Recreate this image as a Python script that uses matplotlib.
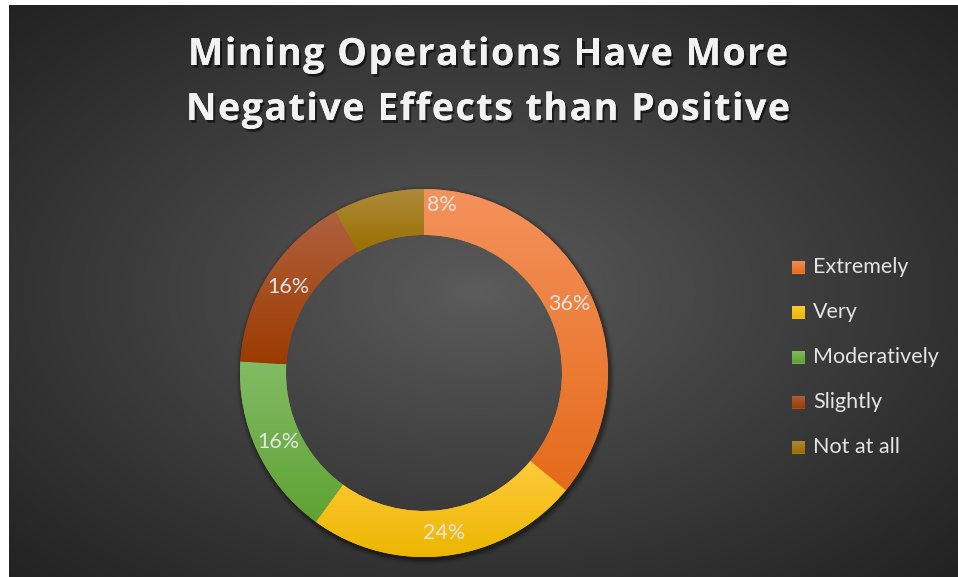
import numpy as np
import matplotlib
matplotlib.use("Agg")
import matplotlib.pyplot as plt
from matplotlib.patches import Rectangle, Wedge
from matplotlib import patheffects as pe
from matplotlib.colors import to_rgb
from matplotlib.font_manager import FontProperties
from matplotlib.textpath import TextToPath

# Survey responses
categories = ["Extremely", "Very", "Moderatively", "Slightly", "Not at all"]
shares = [36, 24, 16, 16, 8]
pct_labels = ["36%", "24%", "16%", "16%", "8%"]
title_lines = ["Mining Operations Have More", "Negative Effects than Positive"]

# (top, bottom) colours of each slice's vertical gradient
slice_colors = [("#F4925C", "#E56B1A"),
                ("#FFCB3C", "#ECB600"),
                ("#82BC65", "#5FA232"),
                ("#B0613F", "#9C3B00"),
                ("#AE8B3C", "#9A6F00")]

W, H = 958, 577
DPI = 100
fig = plt.figure(figsize=(W / DPI, H / DPI), dpi=DPI, facecolor="white")
ax = fig.add_axes([0, 0, 1, 1])


def vgrad(top, bottom, n=256):
    t = np.linspace(0, 1, n)[:, None]
    a, b = np.array(to_rgb(bottom)), np.array(to_rgb(top))
    return (a[None, :] * (1 - t) + b[None, :] * t)[:, None, :]


def mix(top, bottom):
    return tuple((np.array(to_rgb(top)) + np.array(to_rgb(bottom))) / 2)


# Radial background of the chart area
x0, x1, y0, y1 = 9, W, 0, H - 5
gx = np.linspace(x0, x1, 480)
gy = np.linspace(y0, y1, 300)
XX, YY = np.meshgrid(gx, gy)
cx, cy = 478, H - 292
r = np.sqrt(((XX - cx) / ((x1 - x0) / 2)) ** 2 + ((YY - cy) / ((y1 - y0) / 2)) ** 2) / np.sqrt(2)
r = np.clip(r, 0, 1)
level = (92 - (92 - 34) * r ** 0.9) / 255.0
bg = np.dstack([level, level, level])
ax.imshow(bg, extent=(x0, x1, y0, y1), origin="lower", zorder=0, interpolation="bilinear")

# Donut
center = (424, H - 373)
radius = 184
ring = 46

# soft shadow just outside the ring (kept under the ring on the inside)
inner_r = radius - ring + 10
for k, a in enumerate(np.linspace(0.12, 0.02, 6)):
    outer = radius + 1 + k
    sh = Wedge((center[0] + 1.5, center[1] - 2.5), outer, 0, 360, width=outer - inner_r,
               facecolor="black", alpha=a, zorder=1, lw=0)
    ax.add_patch(sh)

wedges, _ = ax.pie(shares, radius=radius, center=center, startangle=90,
                   counterclock=False,
                   colors=[mix(*c) for c in slice_colors],
                   wedgeprops=dict(width=ring, linewidth=0))
for w, (top, bot) in zip(wedges, slice_colors):
    w.set_zorder(2)
    ext = w.get_path().get_extents()
    im = ax.imshow(vgrad(top, bot), extent=(ext.x0, ext.x1, ext.y0, ext.y1),
                   origin="lower", aspect="auto", zorder=3, interpolation="bilinear")
    im.set_clip_path(w)

# percentage labels at the middle of the ring
label_font = dict(family=["Lato", "DejaVu Sans"], fontsize=15.5, color="#E4E4E4")
total = sum(shares)
cum = 0
mid_r = radius - ring / 2
for i, (s, lab) in enumerate(zip(shares, pct_labels)):
    mid = (cum + s / 2) / total
    cum += s
    ang = np.deg2rad(90 - 360 * mid)
    lx = center[0] + mid_r * np.cos(ang)
    ly = center[1] + mid_r * np.sin(ang)
    if i == len(shares) - 1:
        # the small slice's label sits just right of twelve o'clock
        ang = np.deg2rad(84)
        lx = center[0] + 169 * np.cos(ang)
        ly = center[1] + 169 * np.sin(ang)
    ax.text(lx, ly, lab, ha="center", va="center", zorder=6, **label_font)

# Title, letter-spaced
title_prop = FontProperties(family=["Open Sans", "DejaVu Sans"], weight="bold", size=27)
t2p = TextToPath()
px_per_pt = DPI / 72.0


def char_width(ch):
    w, _, _ = t2p.get_text_width_height_descent(ch, title_prop, ismath=False)
    return w * px_per_pt


title_width = 600
title_cx = 488
baselines = [65, 120]
shadow = [pe.withSimplePatchShadow(offset=(1.5, -2), shadow_rgbFace="black", alpha=0.55),
          pe.Normal()]
widths0 = [char_width(c) for c in title_lines[0]]
track = (title_width - sum(widths0)) / (len(title_lines[0]) - 1)
for line, base in zip(title_lines, baselines):
    ws = [char_width(c) for c in line]
    total_w = sum(ws) + track * (len(line) - 1)
    x = title_cx - total_w / 2
    for ch, cw in zip(line, ws):
        if ch != " ":
            ax.text(x, H - base, ch, ha="left", va="baseline", fontproperties=title_prop,
                    color="#F2F2F2", zorder=6, path_effects=shadow)
        x += cw + track

# Legend
leg_x, leg_y0, leg_dy, sq = 792, 267, 45, 13
for i, (name, (top, bot)) in enumerate(zip(categories, slice_colors)):
    yc = H - (leg_y0 + i * leg_dy)
    rect = Rectangle((leg_x, yc - sq / 2), sq, sq, facecolor=mix(top, bot), lw=0, zorder=5)
    ax.add_patch(rect)
    im = ax.imshow(vgrad(top, bot), extent=(leg_x, leg_x + sq, yc - sq / 2, yc + sq / 2),
                   origin="lower", aspect="auto", zorder=6)
    im.set_clip_path(rect)
    ax.text(leg_x + sq + 8, yc, name, ha="left", va="center", fontsize=15.5,
            family=["Lato", "DejaVu Sans"], color="#E4E4E4", zorder=6)

ax.set_xlim(0, W)
ax.set_ylim(0, H)
ax.set_aspect("auto")
ax.axis("off")
fig.savefig("out.png", dpi=DPI, facecolor="white")
